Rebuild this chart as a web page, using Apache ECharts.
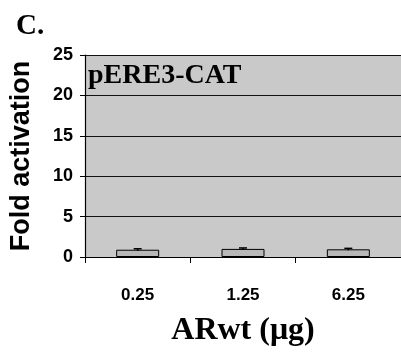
<!DOCTYPE html>
<html>
<head>
<meta charset="utf-8">
<script src="https://cdn.jsdelivr.net/npm/echarts@6/dist/echarts.min.js"></script>
<style>
  html, body { margin: 0; padding: 0; background: #fff; }
  #chart { width: 401px; height: 352px; }
</style>
</head>
<body>
<div id="chart"></div>
<script>
  // doses of ARwt (µg)
  var categories = ['0.25', '1.25', '6.25'];
  // fold activation of pERE3-CAT
  var foldValues = [0.9, 1.0, 0.95];
  // error bar half-heights
  var foldErrors = [0.12, 0.12, 0.12];
  var yTicks = [0, 5, 10, 15, 20, 25];

  var sans = "'Liberation Sans', Arial, sans-serif";
  var serif = "'Liberation Serif', 'Times New Roman', serif";

  var chart = echarts.init(document.getElementById('chart'));

  var errData = foldValues.map(function (v, i) {
    return [i, v - foldErrors[i], v + foldErrors[i]];
  });

  chart.setOption({
    animation: false,
    backgroundColor: '#fff',
    title: {
      text: 'C.',
      left: 11,
      top: 7,
      textStyle: { fontFamily: serif, fontWeight: 'bold', fontSize: 29, color: '#000' }
    },
    grid: {
      left: 82, right: 0, top: 55, bottom: 95,
      show: true, backgroundColor: '#c9c9c9', borderWidth: 0
    },
    graphic: [{
      type: 'text',
      left: 88, top: 62,
      style: { text: 'pERE3-CAT', font: 'bold 28px ' + serif, fill: '#000' }
    }],
    xAxis: {
      type: 'category',
      data: categories,
      name: 'ARwt (μg)',
      nameLocation: 'middle',
      nameGap: 58,
      nameTextStyle: { fontFamily: serif, fontWeight: 'bold', fontSize: 32, color: '#000' },
      axisLine: { lineStyle: { color: '#000', width: 1.2 } },
      axisTick: { show: true, length: 6, lineStyle: { color: '#000' } },
      axisLabel: { margin: 30, fontFamily: sans, fontWeight: 'bold', fontSize: 17, color: '#000' }
    },
    yAxis: {
      type: 'value',
      min: yTicks[0],
      max: yTicks[yTicks.length - 1],
      interval: 5,
      name: 'Fold activation',
      nameLocation: 'middle',
      nameGap: 50,
      nameTextStyle: { fontFamily: sans, fontWeight: 'bold', fontSize: 27, color: '#000' },
      axisLine: { show: true, lineStyle: { color: '#000', width: 1.2 } },
      axisTick: { show: true, length: 5, lineStyle: { color: '#000' } },
      axisLabel: { margin: 12, fontFamily: sans, fontWeight: 'bold', fontSize: 18, color: '#000' },
      splitLine: { show: true, lineStyle: { color: '#111', width: 1 } }
    },
    series: [
      {
        type: 'bar',
        data: foldValues,
        barWidth: 43,
        itemStyle: { color: '#b8b8b8', borderColor: '#000', borderWidth: 1 }
      },
      {
        type: 'custom',
        data: errData,
        z: 5,
        renderItem: function (params, api) {
          var x = api.coord([api.value(0), api.value(1)])[0];
          var lo = api.coord([api.value(0), api.value(1)])[1];
          var hi = api.coord([api.value(0), api.value(2)])[1];
          return {
            type: 'group',
            children: [
              { type: 'line', shape: { x1: x, y1: lo, x2: x, y2: hi }, style: { stroke: '#000', lineWidth: 1.5 } },
              { type: 'line', shape: { x1: x - 4, y1: hi, x2: x + 4, y2: hi }, style: { stroke: '#000', lineWidth: 1.5 } }
            ]
          };
        }
      }
    ]
  });
</script>
</body>
</html>
